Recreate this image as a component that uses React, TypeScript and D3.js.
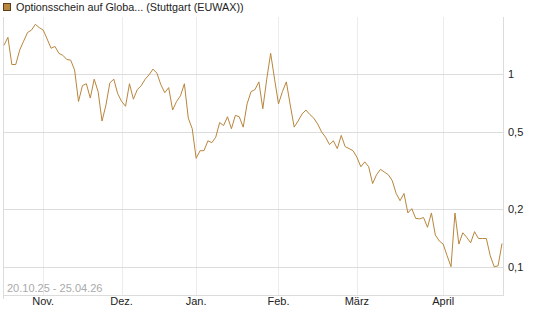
import React from "react"
import * as d3 from "d3"

const width = 545
const height = 327

const title = "Optionsschein auf Globa... (Stuttgart (EUWAX))"
const rangeLabel = "20.10.25 - 25.04.26"
const holidays = ["2025-12-24", "2025-12-25", "2025-12-26", "2025-12-31", "2026-01-01", "2026-04-03", "2026-04-06"]
const monthLabels = ["Nov.", "Dez.", "Jan.", "Feb.", "März", "April"]
const yTicks = [0.1, 0.2, 0.5, 1]
const yDomain = [0.0713, 1.976]

// closing prices, one per trading day 20.10.25 - 24.04.26
const prices = [
  1.41, 1.55, 1.12, 1.12, 1.33, 1.48, 1.64, 1.69, 1.81, 1.74,
  1.69, 1.52, 1.36, 1.39, 1.28, 1.25, 1.19, 1.18, 1.05, 0.72,
  0.87, 0.89, 0.75, 0.94, 0.81, 0.57, 0.69, 0.9, 0.94, 0.79,
  0.72, 0.68, 0.89, 0.74, 0.83, 0.87, 0.94, 0.99, 1.06, 1.01,
  0.88, 0.8, 0.85, 0.65, 0.72, 0.77, 0.89, 0.59, 0.52, 0.365,
  0.4, 0.4, 0.45, 0.44, 0.47, 0.56, 0.54, 0.6, 0.52, 0.61,
  0.6, 0.53, 0.7, 0.81, 0.83, 0.91, 0.66, 0.94, 1.28, 0.94,
  0.7, 0.81, 0.91, 0.69, 0.53, 0.57, 0.62, 0.65, 0.616, 0.59,
  0.55, 0.5, 0.47, 0.43, 0.45, 0.41, 0.48, 0.42, 0.41, 0.4,
  0.37, 0.33, 0.35, 0.33, 0.27, 0.3, 0.32, 0.31, 0.3, 0.28,
  0.24, 0.22, 0.24, 0.19, 0.2, 0.178, 0.177, 0.18, 0.16, 0.19,
  0.146, 0.136, 0.131, 0.114, 0.1, 0.19, 0.131, 0.15, 0.142, 0.133,
  0.152, 0.14, 0.14, 0.14, 0.114, 0.1, 0.101, 0.132,
]

const fmt = d3.timeFormat("%Y-%m-%d")
const days = d3.timeDay
  .range(new Date(2025, 9, 20), new Date(2026, 3, 25))
  .filter(d => d.getDay() % 6 !== 0 && !holidays.includes(fmt(d)))

const monthStarts = days
  .map((d, i) => (i > 0 && d.getMonth() !== days[i - 1].getMonth() ? i : -1))
  .filter(i => i >= 0)

const left = 3
const right = 503
const top = 17
const bottom = 295
const color = "#b8863c"
const font = "'Liberation Sans', Arial, sans-serif"

export default function App() {
  const x = d3.scaleLinear().domain([0, prices.length - 1]).range([4, 502])
  const y = d3.scaleLog().domain(yDomain).range([bottom, top])
  const line = d3
    .line<number>()
    .x((_, i) => x(i))
    .y(d => y(d))

  return (
    <div style={{ position: "absolute", left: 0, top: 0 }}>
      <svg width={width} height={height} style={{ display: "block", fontFamily: font }}>
        <rect x={3.5} y={3.5} width={7} height={7} fill={color} stroke="#5a3f1c" />
        <text x={16} y={11} fontSize={10.8} fill="#222">
          {title}
        </text>

        {monthStarts.map(i => (
          <line key={i} x1={Math.round(x(i)) + 0.5} x2={Math.round(x(i)) + 0.5} y1={top} y2={bottom} stroke="#ececec" />
        ))}
        {yTicks.map(t => (
          <line key={t} x1={left} x2={right} y1={Math.round(y(t)) + 0.5} y2={Math.round(y(t)) + 0.5} stroke="#dcdcdc" />
        ))}
        <line x1={left + 0.5} x2={left + 0.5} y1={top} y2={bottom + 4} stroke="#dcdcdc" />
        <line x1={right + 0.5} x2={right + 0.5} y1={top} y2={bottom} stroke="#dcdcdc" />
        <line x1={left} x2={right + 1} y1={bottom + 0.5} y2={bottom + 0.5} stroke="#dcdcdc" />

        <path d={line(prices) ?? ""} fill="none" stroke={color} strokeWidth={1} />

        {yTicks.map(t => (
          <text key={t} x={508} y={y(t)} dy="0.35em" fontSize={11} fill="#222">
            {String(t).replace(".", ",")}
          </text>
        ))}
        {monthStarts.map((i, k) => (
          <text key={i} x={x(i)} y={301} dy="0.35em" textAnchor="middle" fontSize={11} fill="#222">
            {monthLabels[k]}
          </text>
        ))}
        <text x={7} y={292} fontSize={11} fill="#aaa">
          {rangeLabel}
        </text>
      </svg>
    </div>
  )
}
